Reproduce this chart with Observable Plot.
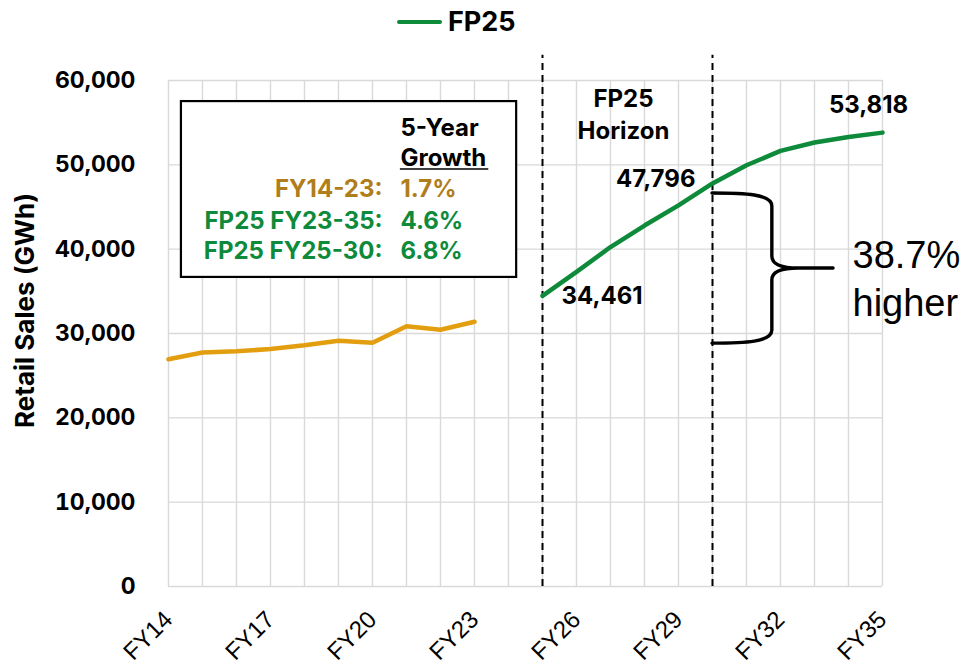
<!DOCTYPE html>
<html>
<head>
<meta charset="utf-8">
<script src="https://cdn.jsdelivr.net/npm/d3@7"></script>
<script src="https://cdn.jsdelivr.net/npm/@observablehq/plot@0.6"></script>
<style>
  body { margin: 0; background: #fff; }
  #wrap { position: relative; width: 964px; height: 670px; }
  #legend { position: absolute; left: 397px; top: 5px; display: flex; align-items: center;
            font: 700 27px Inter, "DejaVu Sans", sans-serif; color: #000; }
  #legend .swatch { width: 45px; height: 4px; background: #0D8A3A; margin-right: 6px; border-radius: 2px; }
</style>
</head>
<body>
<div id="wrap">
  <div id="legend"><span class="swatch"></span><span>FP25</span></div>
</div>
<script>
// ---- data ----
const categories = ["FY14","FY15","FY16","FY17","FY18","FY19","FY20","FY21","FY22","FY23","FY24",
                    "FY25","FY26","FY27","FY28","FY29","FY30","FY31","FY32","FY33","FY34","FY35"];
const historicalYears = ["FY14","FY15","FY16","FY17","FY18","FY19","FY20","FY21","FY22","FY23"];
const historicalSales = [26950, 27750, 27900, 28150, 28600, 29150, 28900, 30850, 30450, 31400];
const forecastYears = ["FY25","FY26","FY27","FY28","FY29","FY30","FY31","FY32","FY33","FY34","FY35"];
const forecastSales = [34461, 37300, 40250, 42800, 45200, 47796, 49950, 51650, 52650, 53300, 53818];
const xTickLabels = ["FY14","FY17","FY20","FY23","FY26","FY29","FY32","FY35"];
const yTicks = [0, 10000, 20000, 30000, 40000, 50000, 60000];
const horizonYears = ["FY25","FY30"];
const growthLabels = ["FY14-23:", "FP25 FY23-35:", "FP25 FY25-30:"];
const growthValues = ["1.7%", "4.6%", "6.8%"];
const growthHeader = "5-Year\nGrowth";
const increaseText = ["38.7%", "higher"];
const labeledPoints = ["FY25", "FY30", "FY35"];

// ---- styling ----
const orange = "#E39E0F", green = "#0D8A3A", gold = "#B07D1B";
const boldFont = "Inter, 'DejaVu Sans', sans-serif";
const plainFont = "'Liberation Sans', Arial, sans-serif";
const fs = 24;

const historical = historicalYears.map((year, i) => ({year, sales: historicalSales[i]}));
const forecast = forecastYears.map((year, i) => ({year, sales: forecastSales[i]}));
const fmt = d3.format(",");
const pt = y => forecast.find(d => d.year === y);

const rowY = [46130, 42450, 38780];
const growthRows = growthLabels.map((label, i) => ({label, value: growthValues[i], y: rowY[i], color: i === 0 ? gold : green}));

function boxAndBrace(index, {x, y}) {
  const g = d3.create("svg:g");
  const step = x("FY15") - x("FY14");
  const x0 = x("FY14") + 0.38 * step, x1 = x("FY24") + 0.24 * step;
  const y0 = y(57500), y1 = y(36650);
  g.append("rect").attr("x", x0).attr("y", y0).attr("width", x1 - x0).attr("height", y1 - y0)
    .attr("fill", "white").attr("stroke", "black").attr("stroke-width", 2.2);
  // underline for "Growth"
  const ux = x("FY20") + 0.82 * step;
  const uy = y(49920) + 4;
  g.append("line").attr("x1", ux).attr("x2", ux + 2.6 * step).attr("y1", uy).attr("y2", uy)
    .attr("stroke", "black").attr("stroke-width", 1.6);
  // brace
  const bx = x("FY30"), xv = bx + 1.76 * step, xt = bx + 3.56 * step;
  const T = y(46600), B = y(28800), M = y(37700);
  const path = `M${bx},${T} C${bx + 33},${T} ${xv},${T + 1} ${xv},${T + 13} L${xv},${M - 12}
    Q${xv},${M} ${xv + 26},${M} L${xt},${M} L${xv + 26},${M} Q${xv},${M} ${xv},${M + 12}
    L${xv},${B - 13} C${xv},${B - 1} ${bx + 33},${B} ${bx},${B}`;
  g.append("path").attr("d", path).attr("fill", "none").attr("stroke", "black")
    .attr("stroke-width", 3.4).attr("stroke-linecap", "round").attr("stroke-linejoin", "round");
  return g.node();
}

const chart = Plot.plot({
  width: 964,
  height: 670,
  marginLeft: 168,
  marginRight: 82,
  marginTop: 80,
  marginBottom: 84,
  style: {fontFamily: boldFont, background: "white", overflow: "visible", color: "black"},
  x: {type: "point", domain: categories, padding: 0},
  y: {domain: [0, 60000]},
  marks: [
    Plot.gridX(categories, {stroke: "#d9d9d9", strokeOpacity: 1, strokeWidth: 1.4}),
    Plot.gridY(yTicks, {stroke: "#d9d9d9", strokeOpacity: 1, strokeWidth: 1.4}),
    Plot.axisY(yTicks, {tickSize: 0, tickPadding: 33, tickFormat: fmt, fontSize: 23, fontWeight: 700, label: null, fill: "black"}),
    Plot.axisX(xTickLabels, {tickSize: 0, tickPadding: 29, tickRotate: -45, fontSize: 24, fontFamily: plainFont, label: null, fill: "black"}),
    Plot.text(["Retail Sales (GWh)"], {frameAnchor: "left", rotate: -90, dx: -143, dy: -23, textAnchor: "middle", lineAnchor: "middle", fontSize: 26, fontWeight: 700, fill: "black"}),
    Plot.ruleX(horizonYears, {x: d => d, y1: 0, y2: 63000, stroke: "black", strokeWidth: 2, strokeDasharray: "7,5"}),
    boxAndBrace,
    Plot.text([growthHeader], {x: () => "FY20", y: () => 49920, dx: 28, textAnchor: "start", lineAnchor: "bottom", lineHeight: 1.25, fontSize: fs, fontWeight: 700, fill: "black"}),
    ...growthRows.map(r => Plot.text([r], {x: () => "FY20", y: "y", text: "label", dx: 10, textAnchor: "end", lineAnchor: "bottom", fontSize: fs, fontWeight: 700, fill: r.color})),
    ...growthRows.map(r => Plot.text([r], {x: () => "FY20", y: "y", text: "value", dx: 28, textAnchor: "start", lineAnchor: "bottom", fontSize: fs, fontWeight: 700, fill: r.color})),
    Plot.text(["FP25\nHorizon"], {x: () => "FY27", y: () => 53120, dx: 13, textAnchor: "middle", lineAnchor: "bottom", lineHeight: 1.3, fontSize: fs, fontWeight: 700, fill: "black"}),
    Plot.line(historical, {x: "year", y: "sales", stroke: orange, strokeWidth: 4.5, strokeLinejoin: "round"}),
    Plot.line(forecast, {x: "year", y: "sales", stroke: green, strokeWidth: 4.5, strokeLinejoin: "round"}),
    Plot.text([pt(labeledPoints[0])], {x: "year", y: "sales", text: d => fmt(d.sales), dx: 19, dy: 8, textAnchor: "start", lineAnchor: "bottom", fontSize: fs, fontWeight: 700, fill: "black"}),
    Plot.text([pt(labeledPoints[1])], {x: "year", y: "sales", text: d => fmt(d.sales), dx: -17, dy: 4, textAnchor: "end", lineAnchor: "bottom", fontSize: fs, fontWeight: 700, fill: "black"}),
    Plot.text([pt(labeledPoints[2])], {x: "year", y: "sales", text: d => fmt(d.sales), dx: -14, dy: -20, textAnchor: "middle", lineAnchor: "bottom", fontSize: fs, fontWeight: 700, fill: "black"}),
    Plot.text([increaseText[0]], {x: () => "FY34", y: () => 37800, dx: 4, textAnchor: "start", lineAnchor: "bottom", fontSize: 38, fontFamily: plainFont, fill: "black"}),
    Plot.text([increaseText[1]], {x: () => "FY34", y: () => 32100, dx: 4, textAnchor: "start", lineAnchor: "bottom", fontSize: 38, fontFamily: plainFont, fill: "black"})
  ]
});
document.getElementById("wrap").prepend(chart);
</script>
</body>
</html>
